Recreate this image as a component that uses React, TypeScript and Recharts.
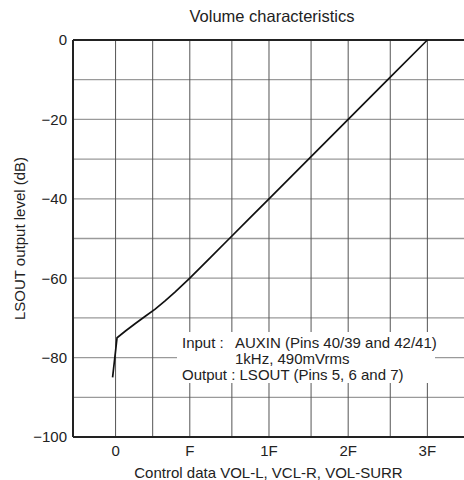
import { Line, LineChart, ReferenceLine, XAxis, YAxis } from 'recharts'

// control data (hex code) vs LSOUT level in dB
const controlCodes = [-0.6, 0.3, 2, 4, 6, 8, 10, 12, 15, 19, 23, 27, 31, 39, 47, 55, 63]
const outputLevels = [
  -85, -75, -73.3, -71.4, -69.6, -67.8, -65.7, -63.5, -60, -55, -50, -45, -40, -30, -20, -10, 0,
]

const codeTicks = [0, 15, 31, 47, 63]
const codeGrid = [0, 7.5, 15, 23.5, 31, 39.5, 47, 55.5, 63]
const levelTicks = [0, -20, -40, -60, -80, -100]
const levelGrid = [-10, -20, -30, -40, -50, -60, -70, -80, -90]

const noteLabels = ['Input :', '', 'Output :']
const noteValues = ['AUXIN (Pins 40/39 and 42/41)', '1kHz, 490mVrms', 'LSOUT (Pins 5, 6 and 7)']

const FONT = '"Liberation Sans", Arial, Helvetica, sans-serif'
const INK = '#222'

const rows = controlCodes.map((code, i) => ({ code, level: outputLevels[i] }))

const codeDomain: [number, number] = [-8.6, 70.4]

function formatCode(value: number) {
  return value.toString(16).toUpperCase()
}

function formatLevel(value: number) {
  return value < 0 ? `\u2212${-value}` : String(value)
}

// white note box sitting over the grid, like the datasheet
function ConditionsNote() {
  return (
    <div
      style={{
        position: 'absolute',
        left: 177,
        top: 332,
        width: 258,
        height: 51,
        paddingTop: 3,
        paddingLeft: 5,
        boxSizing: 'border-box',
        background: '#fff',
        fontFamily: FONT,
        fontSize: 15,
        lineHeight: '16px',
        color: INK,
        whiteSpace: 'pre',
      }}
    >
      {noteValues.map((value, i) =>
        i === 2 ? (
          <div key={value}>{`${noteLabels[i]} ${value}`}</div>
        ) : (
          <div key={value}>
            <span style={{ display: 'inline-block', width: 53 }}>{noteLabels[i]}</span>
            {value}
          </div>
        ),
      )}
    </div>
  )
}

export default function App() {
  return (
    <div style={{ position: 'absolute', left: 0, top: 0, width: 464, height: 480, background: '#fff' }}>
      <div
        style={{
          position: 'absolute',
          left: 80,
          width: 384,
          top: 7,
          textAlign: 'center',
          fontFamily: FONT,
          fontSize: 16.5,
          color: INK,
        }}
      >
        Volume characteristics
      </div>
      <LineChart
        width={464}
        height={480}
        data={rows}
        margin={{ top: 40, right: 0, bottom: 0, left: 0 }}
      >
        <XAxis
          dataKey="code"
          type="number"
          domain={codeDomain}
          ticks={codeTicks}
          allowDataOverflow
          tickFormatter={formatCode}
          tickLine={false}
          tickSize={0}
          tickMargin={8}
          height={43}
          axisLine={{ stroke: INK, strokeWidth: 2 }}
          tick={{ fill: INK, fontFamily: FONT, fontSize: 15 }}
          label={{
            value: 'Control data VOL-L, VCL-R, VOL-SURR',
            position: 'insideBottom',
            offset: 2,
            fill: INK,
            fontFamily: FONT,
            fontSize: 15,
          }}
        />
        <YAxis
          type="number"
          domain={[-100, 0]}
          ticks={levelTicks}
          tickFormatter={formatLevel}
          tickLine={false}
          tickSize={0}
          tickMargin={6}
          width={73}
          axisLine={{ stroke: INK, strokeWidth: 2 }}
          tick={{ fill: INK, fontFamily: FONT, fontSize: 15 }}
          label={{
            value: 'LSOUT output level (dB)',
            angle: -90,
            position: 'insideLeft',
            offset: 20,
            fill: INK,
            fontFamily: FONT,
            fontSize: 15,
            style: { textAnchor: 'middle' },
          }}
        />
        {levelGrid.map((level) => (
          <ReferenceLine key={`h${level}`} y={level} stroke="#9a9a9a" strokeWidth={1.3} />
        ))}
        {codeGrid.map((code) => (
          <ReferenceLine key={`v${code}`} x={code} stroke="#555" strokeWidth={1} />
        ))}
        <ReferenceLine y={0} stroke={INK} strokeWidth={2} />
        <Line
          dataKey="level"
          type="linear"
          stroke="#111"
          strokeWidth={1.7}
          dot={false}
          activeDot={false}
          isAnimationActive={false}
        />
      </LineChart>
      <ConditionsNote />
    </div>
  )
}
